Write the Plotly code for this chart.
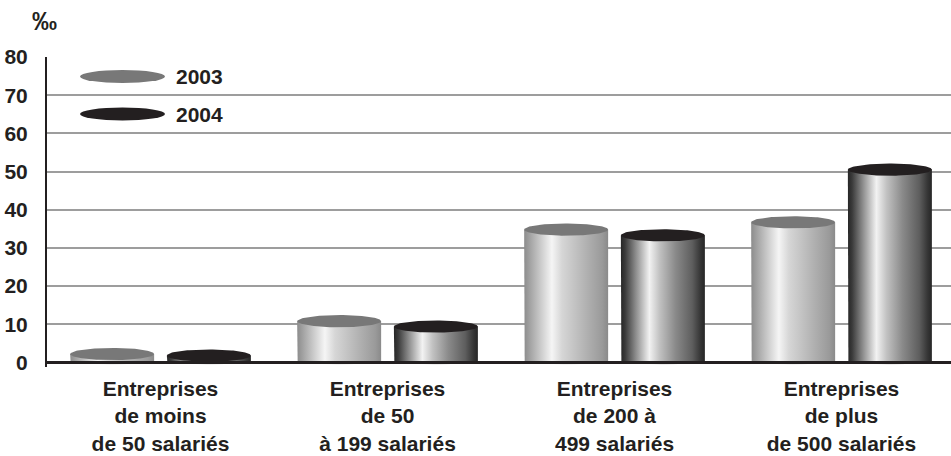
import numpy as np
import plotly.graph_objects as go

# Data: rate per thousand, by company size
categories = [
    "Entreprises<br>de moins<br>de 50 salariés",
    "Entreprises<br>de 50<br>à 199 salariés",
    "Entreprises<br>de 200 à<br>499 salariés",
    "Entreprises<br>de plus<br>de 500 salariés",
]
years = ["2003", "2004"]
values_2003 = [2.2, 10.8, 34.8, 36.7]
values_2004 = [1.8, 9.4, 33.3, 50.5]
y_ticks = [0, 10, 20, 30, 40, 50, 60, 70, 80]

# Styling
FONT = "Liberation Sans, Arial, sans-serif"
INK = "#231f20"
top_colors = {"2003": "#787878", "2004": "#231f20"}
body_scales = {
    "2003": [[0, "#8c8c8c"], [0.08, "#a6a6a6"], [0.33, "#f5f5f5"], [0.45, "#d6d6d6"],
             [0.75, "#b0b0b0"], [0.93, "#9a9a9a"], [1, "#8a8a8a"]],
    "2004": [[0, "#262626"], [0.05, "#3a3a3a"], [0.18, "#8e8e8e"], [0.34, "#f2f2f2"],
             [0.46, "#c2c2c2"], [0.65, "#8a8a8a"], [0.85, "#5e5e5e"], [0.95, "#353535"],
             [1, "#262626"]],
}
offsets = {"2003": -0.213, "2004": 0.213}
bar_w = 0.37          # cylinder width in x units
ry = 1.6              # half-height of the elliptical top caps in y units
ry_base = 0.5         # shallow rounding at the foot of each cylinder
rx = bar_w / 2

series = {"2003": values_2003, "2004": values_2004}

fig = go.Figure()
t_half = np.linspace(0, np.pi, 60)
t_full = np.linspace(0, 2 * np.pi, 120)

for yr in years:
    for i, v in enumerate(series[yr]):
        xc = i + offsets[yr]
        x0, x1 = xc - rx, xc + rx
        # cylinder body: straight sides plus rounded bottom
        bx = np.concatenate([[x0, x0], xc - rx * np.cos(t_half), [x1, x1]])
        by = np.concatenate([[v, 0], -ry_base * np.sin(t_half), [0, v]])
        fig.add_trace(go.Scatter(
            x=bx, y=by, mode="lines", fill="toself",
            line=dict(width=0),
            fillgradient=dict(type="horizontal", colorscale=body_scales[yr],
                              start=x0, stop=x1),
            hoverinfo="skip", showlegend=False,
        ))
        # elliptical top cap at the value
        fig.add_trace(go.Scatter(
            x=xc + rx * np.cos(t_full), y=v + ry * np.sin(t_full),
            mode="lines", fill="toself", fillcolor=top_colors[yr],
            line=dict(width=0), name=yr,
            hovertemplate=f"{yr}: {v}‰<extra></extra>", showlegend=False,
        ))

# Plot area in pixels
L, R, T, B = 47, 0, 57, 89
W, H = 951, 456
pw, ph = W - L - R, H - T - B


def px_x(px):
    return (px - L) / pw


def px_y(py):
    return (H - B - py) / ph


shapes = [
    # baseline at zero
    dict(type="line", xref="paper", yref="y", x0=0, x1=1, y0=0, y1=0,
         line=dict(color=INK, width=3), layer="above"),
]
annotations = [
    dict(text="‰", xref="paper", yref="paper", x=px_x(44), y=px_y(21),
         xanchor="center", yanchor="middle", showarrow=False,
         font=dict(family=FONT, size=25, color=INK, weight="bold")),
]
# legend: elliptical swatches with year labels
for yr, cy in zip(years, [76.5, 114]):
    shapes.append(dict(type="circle", xref="paper", yref="paper",
                       x0=px_x(80), x1=px_x(165), y0=px_y(cy + 6.5), y1=px_y(cy - 6.5),
                       fillcolor=top_colors[yr], line=dict(width=0)))
    annotations.append(dict(text=yr, xref="paper", yref="paper", x=px_x(174), y=px_y(cy),
                            xanchor="left", yanchor="middle", showarrow=False,
                            font=dict(family=FONT, size=21, color=INK, weight="bold")))

fig.update_layout(
    width=W, height=H,
    margin=dict(l=L, r=R, t=T, b=B),
    paper_bgcolor="white", plot_bgcolor="white",
    shapes=shapes, annotations=annotations,
    xaxis=dict(
        range=[-0.5, -0.5 + pw / 227], tickvals=list(range(len(categories))),
        ticktext=categories, showgrid=False, zeroline=False, showline=False,
        ticks="", ticklabelstandoff=7,
        tickfont=dict(family=FONT, size=21, color=INK, weight="bold"),
        fixedrange=True,
    ),
    yaxis=dict(
        range=[-1.2, 80], tickvals=y_ticks, showgrid=True, gridcolor="#9d9d9d",
        gridwidth=1.6, zeroline=False, showline=True, linecolor=INK, linewidth=2,
        ticks="", ticklabelstandoff=13,
        tickfont=dict(family=FONT, size=21, color=INK, weight="bold"),
        fixedrange=True,
    ),
)

fig.write_html("out.html")
